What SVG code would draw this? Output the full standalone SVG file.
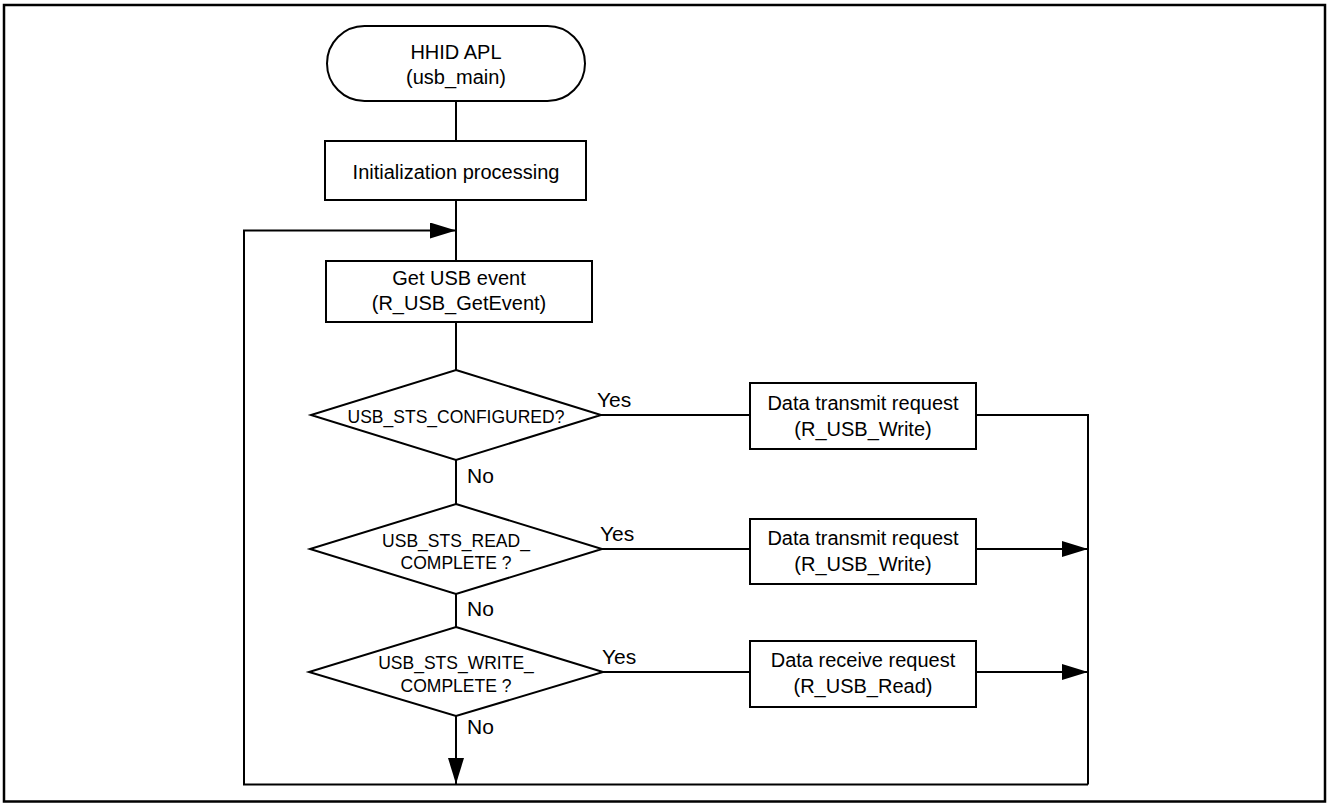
<svg xmlns="http://www.w3.org/2000/svg" width="1328" height="803" viewBox="0 0 1328 803">
<style>
.s{fill:#fff;stroke:#000;stroke-width:2}
.l{fill:none;stroke:#000;stroke-width:2}
.t{font-family:"Liberation Sans",Arial,sans-serif;font-size:20px;fill:#000;text-anchor:middle}
.d{font-family:"Liberation Sans",Arial,sans-serif;font-size:17.5px;fill:#000;text-anchor:middle}
.lb{font-family:"Liberation Sans",Arial,sans-serif;font-size:21px;fill:#000}
</style>
<defs>
<marker id="ah" markerUnits="userSpaceOnUse" markerWidth="26" markerHeight="16" refX="26" refY="8" orient="auto">
<path d="M0,0 L26,8 L0,16 Z" fill="#000"/>
</marker>
</defs>
<rect x="4" y="5" width="1321" height="796.5" fill="#fff" stroke="#000" stroke-width="2.5"/>
<g id="connectors">
<line class="l" x1="456" y1="101" x2="456" y2="141"/>
<line class="l" x1="456" y1="200" x2="456" y2="261"/>
<line class="l" x1="456" y1="322" x2="456" y2="370"/>
<line class="l" x1="456" y1="460" x2="456" y2="504"/>
<line class="l" x1="456" y1="594" x2="456" y2="627"/>
<line class="l" x1="456" y1="716" x2="456" y2="784" marker-end="url(#ah)"/>
<polyline class="l" points="1088,784.5 244,784.5 244,230.5 456,230.5" marker-end="url(#ah)"/>
<line class="l" x1="601" y1="415" x2="750" y2="415"/>
<line class="l" x1="602" y1="549" x2="750" y2="549"/>
<line class="l" x1="603" y1="672" x2="750" y2="672"/>
<polyline class="l" points="976,415 1088,415 1088,784.5"/>
<line class="l" x1="976" y1="549" x2="1088" y2="549" marker-end="url(#ah)"/>
<line class="l" x1="976" y1="672" x2="1088" y2="672" marker-end="url(#ah)"/>
<text class="lb" x="597" y="407">Yes</text>
<text class="lb" x="600" y="541">Yes</text>
<text class="lb" x="602" y="664">Yes</text>
<text class="lb" x="467" y="483">No</text>
<text class="lb" x="467" y="616">No</text>
<text class="lb" x="467" y="734">No</text>
</g>
<g id="start">
<rect class="s" x="327" y="26" width="258" height="75" rx="37.5" ry="37.5"/>
<text class="t" x="456" y="59">HHID APL</text>
<text class="t" x="456" y="84">(usb_main)</text>
</g>
<g id="init">
<rect class="s" x="325" y="141" width="261" height="59"/>
<text class="t" x="456" y="179">Initialization processing</text>
</g>
<g id="getevent">
<rect class="s" x="326" y="261" width="266" height="61"/>
<text class="t" x="459" y="285">Get USB event</text>
<text class="t" x="459" y="310">(R_USB_GetEvent)</text>
</g>
<g id="dec1">
<polygon class="s" points="456,370 601,415 456,460 311,415"/>
<text class="d" x="456" y="423" font-size="18">USB_STS_CONFIGURED?</text>
</g>
<g id="dec2">
<polygon class="s" points="456,504 602,549 456,594 310,549"/>
<text class="d" x="456" y="547">USB_STS_READ_</text>
<text class="d" x="456" y="569">COMPLETE ?</text>
</g>
<g id="dec3">
<polygon class="s" points="456,627 603,672 456,716 309,672"/>
<text class="d" x="456" y="669">USB_STS_WRITE_</text>
<text class="d" x="456" y="692">COMPLETE ?</text>
</g>
<g id="write1">
<rect class="s" x="750" y="383" width="226" height="66"/>
<text class="t" x="863" y="410">Data transmit request</text>
<text class="t" x="863" y="436">(R_USB_Write)</text>
</g>
<g id="write2">
<rect class="s" x="750" y="519" width="226" height="65"/>
<text class="t" x="863" y="545">Data transmit request</text>
<text class="t" x="863" y="571">(R_USB_Write)</text>
</g>
<g id="read">
<rect class="s" x="750" y="641" width="226" height="66"/>
<text class="t" x="863" y="667">Data receive request</text>
<text class="t" x="863" y="693">(R_USB_Read)</text>
</g>
</svg>
